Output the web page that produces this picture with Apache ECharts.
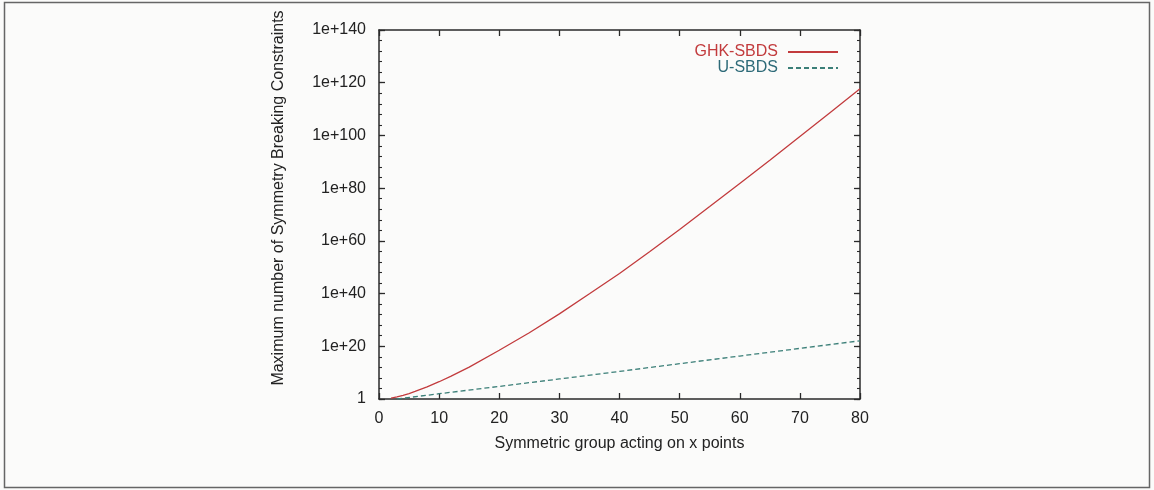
<!DOCTYPE html>
<html>
<head>
<meta charset="utf-8">
<script src="https://cdn.jsdelivr.net/npm/echarts@6/dist/echarts.min.js"></script>
<style>
  html, body { margin: 0; padding: 0; background: #fbfbfa; }
  #chart { width: 1154px; height: 490px; }
</style>
</head>
<body>
<div id="chart"></div>
<script>
// Group size n (points the symmetric group acts on)
const ghkN = [2, 3, 4, 5, 6, 8, 10, 12, 15, 20, 25, 30, 35, 40, 45, 50, 55, 60, 65, 70, 75, 80];
// Maximum number of symmetry breaking constraints, GHK-SBDS
const ghkValues = [2, 6, 24, 120, 720, 4.0e4, 3.6e6, 4.8e8, 1.3e12, 3e18, 1.3e25, 2e32, 8e39,
  4e47, 8e55, 2e64, 1e73, 6e81, 4e90, 4e99, 4e108, 5e117];

const uN = [3, 10, 20, 30, 40, 50, 60, 70, 80];
// Maximum number of symmetry breaking constraints, U-SBDS
const uValues = [1, 1e2, 6e4, 4e7, 3e10, 2.5e13, 2e16, 1.6e19, 1.2e22];

const xTicks = [0, 10, 20, 30, 40, 50, 60, 70, 80];
const yTickLabels = ['1', '1e+20', '1e+40', '1e+60', '1e+80', '1e+100', '1e+120', '1e+140'];

const seriesNames = ['GHK-SBDS', 'U-SBDS'];
const xTitle = 'Symmetric group acting on x points';
const yTitle = 'Maximum number of Symmetry Breaking Constraints';

const RED = '#c23b3d';
const TEAL_LINE = '#3b7f78';
const TEAL_TEXT = '#2d6a78';
const AXIS = '#2a2a2a';
const FONT = 'Liberation Sans';

const chart = echarts.init(document.getElementById('chart'), null, { renderer: 'canvas' });

const plotRect = { left: 379, right: 294, top: 30, bottom: 91 };

// gridIndex 0 carries the data, the frame and the major ticks;
// gridIndex 1 overlays the same rectangle and only draws the minor y ticks.
function yAxisDef(gridIndex, position, interval, tickLen, showLine, showLabels) {
  return {
    gridIndex: gridIndex,
    type: 'log', logBase: 10, min: 1, max: 1e140, interval: interval, position: position,
    splitLine: { show: false },
    axisLine: { show: showLine, onZero: false, lineStyle: { color: AXIS, width: 1.5 } },
    axisTick: { show: true, inside: true, length: tickLen, lineStyle: { color: AXIS, width: tickLen > 4 ? 1.3 : 1.1 } },
    axisLabel: showLabels ? {
      color: '#222', fontSize: 16, margin: 13, fontFamily: FONT,
      formatter: function (v) { return yTickLabels[Math.round(Math.log10(v) / 20)]; }
    } : { show: false }
  };
}

function xAxisDef(gridIndex, position, showLabels, visible) {
  const a = {
    gridIndex: gridIndex, show: visible,
    type: 'value', min: xTicks[0], max: xTicks[xTicks.length - 1], interval: 10,
    position: position,
    axisLine: { show: true, onZero: false, lineStyle: { color: AXIS, width: 1.5 } },
    axisTick: { show: true, inside: true, length: 6, lineStyle: { color: AXIS, width: 1.3 } },
    axisLabel: showLabels ? { color: '#222', fontSize: 16, margin: 12, fontFamily: FONT } : { show: false },
    splitLine: { show: false }
  };
  if (showLabels) {
    a.name = xTitle;
    a.nameLocation = 'middle';
    a.nameGap = 37;
    a.nameTextStyle = { color: '#222', fontSize: 16, fontFamily: FONT };
  }
  return a;
}

const option = {
  backgroundColor: '#fbfbfa',
  animation: false,
  textStyle: { fontFamily: FONT },
  grid: [Object.assign({}, plotRect), Object.assign({}, plotRect)],
  legend: {
    orient: 'vertical', right: 310, top: 39, align: 'right',
    itemWidth: 50, itemHeight: 10, itemGap: 0,
    itemStyle: { opacity: 0 },
    textStyle: { fontFamily: FONT, fontSize: 16, lineHeight: 16, padding: [0, 5, 0, 0] },
    data: [
      { name: seriesNames[0], textStyle: { color: RED } },
      { name: seriesNames[1], textStyle: { color: TEAL_TEXT } }
    ]
  },
  xAxis: [
    xAxisDef(0, 'bottom', true, true),
    xAxisDef(0, 'top', false, true),
    xAxisDef(1, 'bottom', false, false)
  ],
  yAxis: [
    yAxisDef(0, 'left', 20, 6, true, true),
    yAxisDef(0, 'right', 20, 6, true, false),
    yAxisDef(1, 'left', 4, 3, false, false),
    yAxisDef(1, 'right', 4, 3, false, false)
  ],
  graphic: [
    {
      type: 'rect', silent: true, z: 100,
      shape: { x: 4.5, y: 2.5, width: 1145, height: 485 },
      style: { fill: 'none', stroke: '#666', lineWidth: 1.5 }
    },
    {
      type: 'text', x: 279, y: 198, rotation: Math.PI / 2,
      style: {
        text: yTitle, fill: '#222', font: '16px "' + FONT + '"',
        textAlign: 'center', textVerticalAlign: 'middle'
      }
    }
  ],
  series: [
    {
      name: seriesNames[0], type: 'line', xAxisIndex: 0, yAxisIndex: 0,
      showSymbol: false, symbol: 'none', smooth: false,
      lineStyle: { color: RED, width: 1.3 },
      itemStyle: { color: RED },
      data: ghkN.map(function (n, i) { return [n, ghkValues[i]]; })
    },
    {
      name: seriesNames[1], type: 'line', xAxisIndex: 0, yAxisIndex: 0,
      showSymbol: false, symbol: 'none', smooth: false,
      lineStyle: { color: TEAL_LINE, width: 1.3, type: [5, 3] },
      itemStyle: { color: TEAL_LINE },
      data: uN.map(function (n, i) { return [n, uValues[i]]; })
    }
  ]
};

chart.setOption(option);
</script>
</body>
</html>
